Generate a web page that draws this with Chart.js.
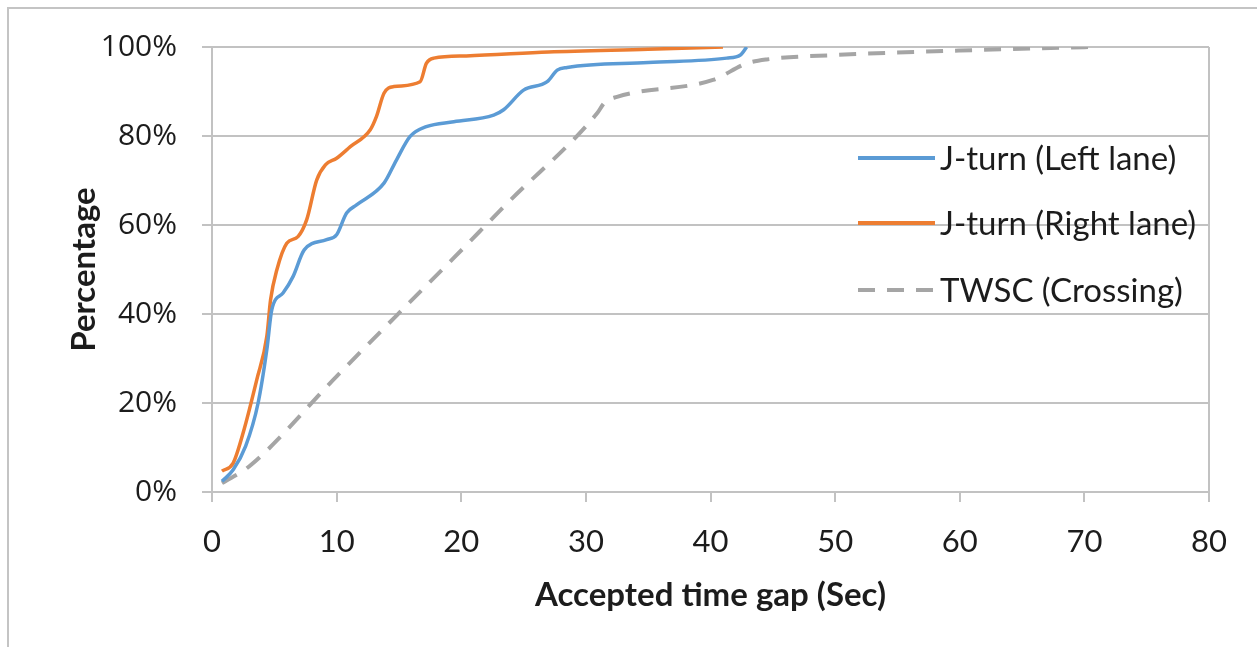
<!DOCTYPE html>
<html>
<head>
<meta charset="utf-8">
<script src="https://cdn.jsdelivr.net/npm/chart.js@4/dist/chart.umd.min.js"></script>
<style>
  html, body { margin: 0; padding: 0; background: #fff; }
  #wrap { position: relative; width: 1257px; height: 647px; overflow: hidden; }
  #frame { position: absolute; left: 7px; top: 7px; width: 1400px; height: 800px; border: 2px solid #c4c4c4; box-sizing: border-box; }
  canvas { position: absolute; left: 0; top: 0; }
</style>
</head>
<body>
<div id="wrap">
  <div id="frame"></div>
  <canvas id="c" width="1257" height="647"></canvas>
</div>
<script>
// ---- data ----
const seriesNames = ['J-turn (Left lane)', 'J-turn (Right lane)', 'TWSC (Crossing)'];

const leftLaneX = [0.8, 1.7, 2.7, 3.7, 4.4, 4.8, 5.7, 6.5, 7.4, 9.2, 10.0, 10.8, 11.6, 13.8, 14.8, 15.9, 17.2, 19.4, 22.6, 23.4, 25.0, 26.9, 27.7, 28.5, 35.0, 41.3, 42.4, 42.9];
const leftLaneY = [2.4, 5.0, 10.3, 20.0, 32.0, 41.0, 44.7, 48.4, 54.4, 56.7, 57.8, 62.7, 64.5, 69.4, 74.6, 79.9, 82.1, 83.2, 84.7, 85.9, 90.3, 92.2, 94.8, 95.4, 96.5, 97.5, 98.2, 100.0];

const rightLaneX = [0.8, 1.7, 2.5, 3.6, 4.4, 4.7, 5.2, 6.0, 6.9, 7.6, 8.4, 9.1, 10.0, 11.1, 12.7, 13.2, 13.8, 14.6, 16.7, 17.2, 17.8, 20.4, 27.0, 35.0, 41.0];
const rightLaneY = [4.7, 6.5, 13.3, 25.3, 35.0, 43.2, 49.9, 55.9, 57.4, 61.2, 70.1, 73.5, 75.0, 77.6, 81.4, 84.4, 89.6, 91.1, 92.2, 96.3, 97.5, 98.0, 98.9, 99.5, 100.0];

const twscX = [0.8, 3.0, 10.0, 15.0, 19.4, 23.7, 30.9, 31.5, 32.5, 40.2, 42.9, 44.5, 50.0, 60.0, 70.5];
const twscY = [2.0, 5.8, 26.0, 40.2, 52.6, 64.9, 85.1, 87.5, 88.8, 92.6, 96.3, 97.2, 98.2, 99.2, 100.0];

const xTicks = [0, 10, 20, 30, 40, 50, 60, 70, 80];
const yTicks = [0, 20, 40, 60, 80, 100];
const xTitle = 'Accepted time gap (Sec)';
const yTitle = 'Percentage';

// ---- build chart ----
const toPts = (xs, ys) => xs.map((x, i) => ({ x: x, y: ys[i] }));
const colors = ['#5B9BD5', '#ED7D31', '#A5A5A5'];
const GRID = '#c2c2c2';
const TEXT = '#1c1c1c';

const legendPlugin = {
  id: 'sideLegend',
  afterDraw(chart) {
    const ctx = chart.ctx;
    const rows = [158, 223, 290];
    ctx.save();
    chart.data.datasets.forEach((ds, i) => {
      const y = rows[i];
      ctx.beginPath();
      ctx.strokeStyle = ds.borderColor;
      ctx.lineWidth = 4;
      ctx.setLineDash(ds.borderDash || []);
      ctx.moveTo(858, y);
      ctx.lineTo(935, y);
      ctx.stroke();
      ctx.setLineDash([]);
      ctx.fillStyle = TEXT;
      ctx.font = '33px Lato';
      ctx.textBaseline = 'middle';
      ctx.textAlign = 'left';
      ctx.fillText(ds.label, 940, y + 1);
    });
    ctx.restore();
  }
};

new Chart(document.getElementById('c'), {
  type: 'line',
  data: {
    datasets: [
      { label: seriesNames[0], data: toPts(leftLaneX, leftLaneY), borderColor: colors[0], borderWidth: 3.5, pointRadius: 0, cubicInterpolationMode: 'monotone', fill: false },
      { label: seriesNames[1], data: toPts(rightLaneX, rightLaneY), borderColor: colors[1], borderWidth: 3.5, pointRadius: 0, cubicInterpolationMode: 'monotone', fill: false },
      { label: seriesNames[2], data: toPts(twscX, twscY), borderColor: colors[2], borderWidth: 4, borderDash: [17, 12], pointRadius: 0, cubicInterpolationMode: 'monotone', fill: false }
    ]
  },
  options: {
    responsive: false,
    animation: false,
    layout: { padding: { left: 0, top: 47, right: 48, bottom: 0 } },
    plugins: { legend: { display: false }, tooltip: { enabled: false } },
    scales: {
      x: {
        type: 'linear',
        min: 0, max: 80,
        afterBuildTicks: (s) => { s.ticks = xTicks.map(v => ({ value: v })); },
        afterFit: (s) => { s.height = 155; },
        grid: {
          color: (c) => (c.tick && c.tick.value === 80) ? GRID : 'rgba(0,0,0,0)',
          tickColor: GRID,
          lineWidth: 2,
          tickLength: 10
        },
        border: { color: GRID, width: 2 },
        ticks: { color: TEXT, font: { family: 'Lato', size: 31 }, padding: 21, maxRotation: 0 },
        title: { display: true, text: xTitle, color: TEXT, font: { family: 'Lato', size: 33, weight: 'bold' }, padding: { top: 0, bottom: 32 } }
      },
      y: {
        min: 0, max: 100,
        afterBuildTicks: (s) => { s.ticks = yTicks.map(v => ({ value: v })); },
        afterFit: (s) => { s.width = 212; },
        grid: { color: GRID, lineWidth: 2, tickLength: 10 },
        border: { color: GRID, width: 2 },
        ticks: { color: TEXT, font: { family: 'Open Sans', size: 30 }, padding: 25, callback: (v) => v + '%' },
        title: { display: true, text: yTitle, color: TEXT, font: { family: 'Lato', size: 33, weight: 'bold' }, padding: { top: 65, bottom: 0 } }
      }
    }
  },
  plugins: [legendPlugin]
});
</script>
</body>
</html>
